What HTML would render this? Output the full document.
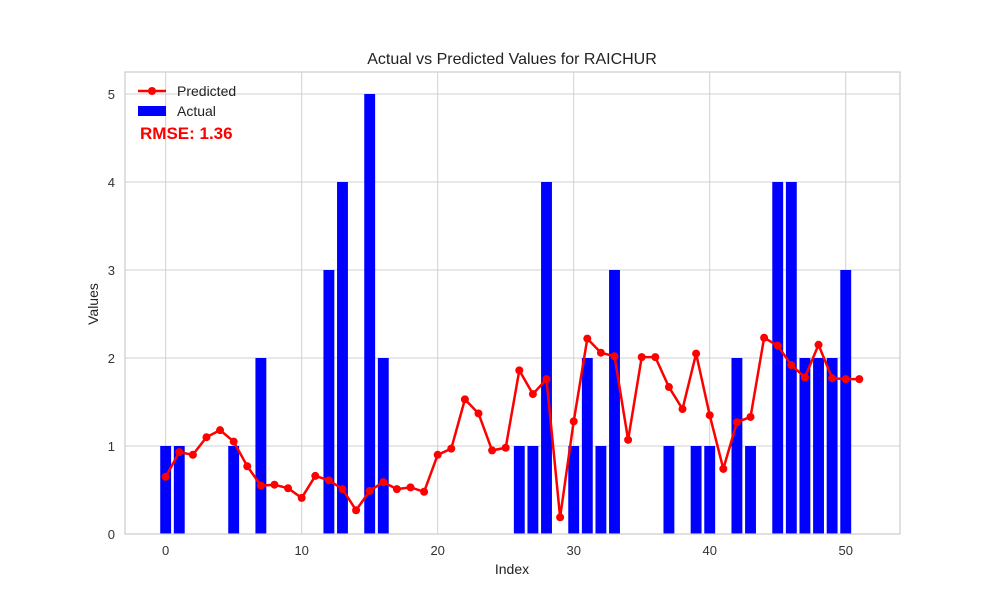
<!DOCTYPE html>
<html><head><meta charset="utf-8"><style>
body{margin:0;background:#fff;}
svg{display:block;font-family:"Liberation Sans","DejaVu Sans",sans-serif;}
</style></head><body>
<svg id="chart" width="1000" height="600"></svg>
<script>
const actual=[1,1,0,0,0,1,0,2,0,0,0,0,3,4,0,5,2,0,0,0,0,0,0,0,0,0,1,1,4,0,1,2,1,3,0,0,0,1,0,1,1,0,2,1,0,4,4,2,2,2,3,0];
const predicted=[0.65,0.93,0.90,1.10,1.18,1.05,0.77,0.55,0.56,0.52,0.41,0.66,0.61,0.51,0.27,0.49,0.59,0.51,0.53,0.48,0.90,0.97,1.53,1.37,0.95,0.98,1.86,1.59,1.76,0.19,1.28,2.22,2.06,2.02,1.07,2.01,2.01,1.67,1.42,2.05,1.35,0.74,1.27,1.33,2.23,2.14,1.92,1.78,2.15,1.77,1.76,1.76];
const xTicks=[0,10,20,30,40,50];
const yTicks=[0,1,2,3,4,5];
const L=125,R=900,T=72,B=534,xmin=-2.99,xmax=53.99,ymax=5.25;
const sx=v=>L+(v-xmin)/(xmax-xmin)*(R-L);
const sy=v=>B-v/ymax*(B-T);
const svg=document.getElementById('chart');
const NS='http://www.w3.org/2000/svg';
function mk(tag,attrs,parent){const e=document.createElementNS(NS,tag);for(const k in attrs)e.setAttribute(k,attrs[k]);(parent||svg).appendChild(e);return e;}
let bg=mk('rect',{x:L,y:T,width:R-L,height:B-T,fill:'#fff'});


xTicks.forEach(t=>{
 let g=mk('line',{x1:sx(t),x2:sx(t),y1:T,y2:B,stroke:'#d0d0d0','stroke-width':1});
 
 
 let l=mk('text',{x:sx(t),y:555,'text-anchor':'middle','font-size':13,fill:'#333'});l.textContent=t;
 
 
});
yTicks.forEach(t=>{
 let g=mk('line',{x1:L,x2:R,y1:sy(t),y2:sy(t),stroke:'#d0d0d0','stroke-width':1});
 
 
 let l=mk('text',{x:115,y:sy(t)+5,'text-anchor':'end','font-size':13,fill:'#333'});l.textContent=t;
 
 
});
actual.forEach((v,i)=>{
 if(v<=0)return;
 let b=mk('rect',{x:sx(i-0.4),y:sy(v),width:sx(0.8)-sx(0),height:sy(0)-sy(v),fill:'#0000ff'});
 
 
});
let pts=predicted.map((v,i)=>sx(i)+','+sy(v)).join(' ');
let pl=mk('polyline',{points:pts,fill:'none',stroke:'#ff0000','stroke-width':2.5});


predicted.forEach((v,i)=>{
 let c=mk('circle',{cx:sx(i),cy:sy(v),r:4,fill:'#ff0000'});
 
 
});
let fr=mk('rect',{x:L,y:T,width:R-L,height:B-T,fill:'none',stroke:'#cccccc','stroke-width':1.2});


</script>
<svg style="position:absolute;left:0;top:0" width="1000" height="600">
<text x="512" y="64" text-anchor="middle" font-size="16" fill="#222" font-family="Liberation Sans, sans-serif">Actual vs Predicted Values for RAICHUR</text>
<text x="512" y="574" text-anchor="middle" font-size="14" fill="#222" font-family="Liberation Sans, sans-serif">Index</text>
<text x="98" y="304" text-anchor="middle" font-size="14" fill="#222" font-family="Liberation Sans, sans-serif" transform="rotate(-90 98 304)">Values</text>
<g>
<line x1="138" y1="91" x2="166" y2="91" stroke="#ff0000" stroke-width="2.5"/>
<circle cx="152" cy="91" r="4" fill="#ff0000"/>
<text x="177" y="96" font-size="14" fill="#222" font-family="Liberation Sans, sans-serif">Predicted</text>
</g>
<g>
<rect x="138" y="106" width="28" height="10" fill="#0000ff"/>
<text x="177" y="116" font-size="14" fill="#222" font-family="Liberation Sans, sans-serif">Actual</text>
</g>
<text x="140" y="139" font-size="17" font-weight="bold" fill="#ff0000" font-family="Liberation Sans, sans-serif">RMSE: 1.36</text>
</svg>
</body></html>
